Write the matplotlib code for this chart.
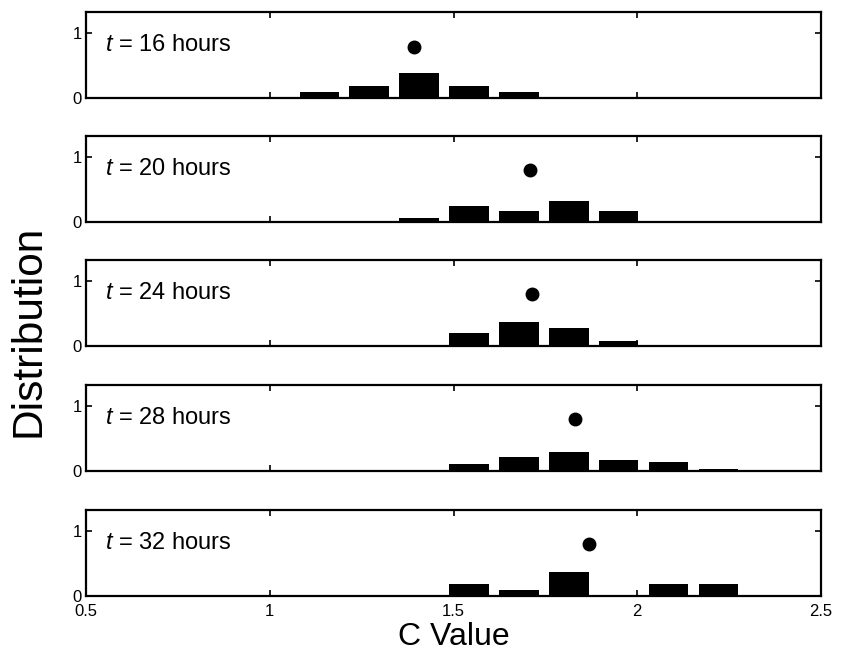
import matplotlib
matplotlib.use("Agg")
import matplotlib.pyplot as plt

# bin centres of the C value histogram
bin_centers = [1.135, 1.271, 1.406, 1.542, 1.678, 1.814, 1.949, 2.085, 2.221]

hours = [16, 20, 24, 28, 32]

# distribution per time point (one value per bin)
dist_16 = [0.085, 0.185, 0.39, 0.185, 0.085, 0.0, 0.0, 0.0, 0.0]
dist_20 = [0.0, 0.0, 0.065, 0.25, 0.175, 0.325, 0.175, 0.0, 0.0]
dist_24 = [0.0, 0.0, 0.02, 0.2, 0.365, 0.28, 0.07, 0.02, 0.0]
dist_28 = [0.0, 0.0, 0.0, 0.115, 0.21, 0.285, 0.17, 0.135, 0.025]
dist_32 = [0.0, 0.0, 0.0, 0.18, 0.09, 0.37, 0.0, 0.18, 0.18]

# mean C value markers
mean_c = [1.393, 1.709, 1.713, 1.83, 1.87]
mean_y = [0.79, 0.8, 0.8, 0.8, 0.8]

distributions = [dist_16, dist_20, dist_24, dist_28, dist_32]

plt.rcParams["font.family"] = ["Liberation Sans", "DejaVu Sans"]
plt.rcParams["mathtext.fontset"] = "custom"
plt.rcParams["mathtext.it"] = "Liberation Sans:italic"
plt.rcParams["mathtext.rm"] = "Liberation Sans"

fig = plt.figure(figsize=(8.42, 6.55), dpi=100)

left = 86 / 842
right = 821 / 842
panel_h = 86 / 655
tops = [12, 136, 260, 385, 510]

for i, (h, dist) in enumerate(zip(hours, distributions)):
    top = 1 - tops[i] / 655
    ax = fig.add_axes([left, top - panel_h, right - left, panel_h])

    ax.bar(bin_centers, dist, width=0.108, color="black", edgecolor="none")
    ax.plot(mean_c[i], mean_y[i], "o", color="black", markersize=9)

    ax.set_xlim(0.5, 2.5)
    ax.set_ylim(0, 1.32)
    ax.set_xticks([0.5, 1, 1.5, 2, 2.5])
    ax.set_yticks([0, 1])
    ax.tick_params(direction="in", top=True, right=True, length=4,
                   width=1.2, labelsize=12)
    ax.tick_params(axis="x", pad=6)
    ax.tick_params(axis="y", pad=3)
    if i < len(hours) - 1:
        ax.set_xticklabels([])
    else:
        ax.set_xticklabels(["0.5", "1", "1.5", "2", "2.5"])
    for spine in ax.spines.values():
        spine.set_linewidth(1.6)

    ax.text(0.026, 0.62, f"$t$ = {h} hours", transform=ax.transAxes,
            fontsize=17, va="center", ha="left")

    if i == len(hours) - 1:
        ax.set_xlabel("C Value", fontsize=23, labelpad=2)

fig.text(0.034, 0.495, "Distribution", rotation=90, fontsize=30.5,
         va="center", ha="center")

fig.savefig("out.png", dpi=100)
